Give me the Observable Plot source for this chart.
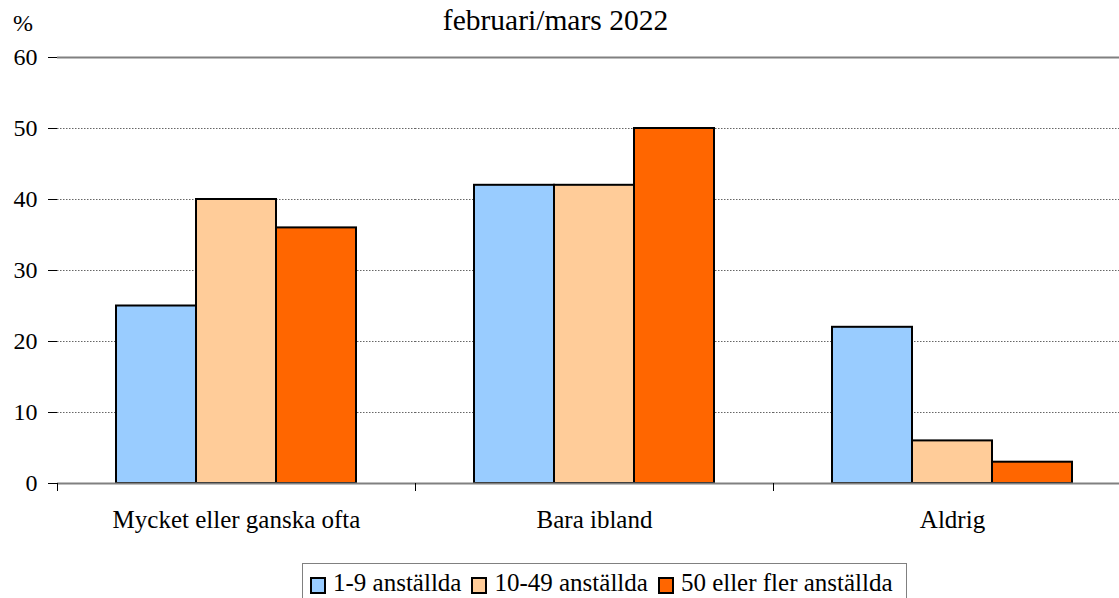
<!DOCTYPE html>
<html>
<head>
<meta charset="utf-8">
<script src="https://cdn.jsdelivr.net/npm/d3@7"></script>
<script src="https://cdn.jsdelivr.net/npm/@observablehq/plot@0.6"></script>
<style>
  html, body { margin: 0; padding: 0; background: #fff; }
  body { width: 1119px; height: 598px; overflow: hidden; font-family: "Liberation Serif", "Times New Roman", serif; color: #000; }
  #wrap { position: relative; width: 1119px; height: 598px; overflow: hidden; }
  #title { position: absolute; top: 3px; left: 0; width: 1111px; text-align: center; font-size: 29.5px; line-height: 34px; white-space: nowrap; }
  #unit { position: absolute; top: 9px; left: 13px; font-size: 24px; line-height: 28px; }
  #chart { position: absolute; top: 0; left: 0; width: 1135px; }
  #chart svg { max-width: none !important; }
  #chart svg, #chart svg text { font-family: "Liberation Serif", "Times New Roman", serif !important; }
  #legend { position: absolute; left: 302px; top: 563px; width: 605px; height: 42px; border: 1px solid #808080; box-sizing: border-box; font-family: "Liberation Serif", serif; font-size: 25px; line-height: 30px; white-space: nowrap; padding: 4px 0 0 7px; }
  .item { display: inline-block; margin-right: 10px; }
  .sw { display: inline-block; width: 16px; height: 17px; border: 2px solid #000; box-sizing: border-box; margin-right: 7px; vertical-align: -3px; }
</style>
</head>
<body>
<div id="wrap">
  <div id="unit">%</div>
  <div id="title">februari/mars 2022</div>
  <div id="chart"></div>
  <div id="legend"></div>
</div>
<script>
const categories = ["Mycket eller ganska ofta", "Bara ibland", "Aldrig"];
const series = ["1-9 anställda", "10-49 anställda", "50 eller fler anställda"];
const values1to9 = [25, 42, 22];
const values10to49 = [40, 42, 6];
const values50plus = [36, 50, 3];
const colors = ["#99CCFF", "#FFCC99", "#FF6600"];
const yTicks = [0, 10, 20, 30, 40, 50, 60];

const seriesValues = [values1to9, values10to49, values50plus];
const data = [];
categories.forEach((c, ci) => {
  series.forEach((s, si) => data.push({cat: c, series: s, value: seriesValues[si][ci]}));
});

const W = 1135, H = 560, mL = 57, mR = 4;
const halfBand = (W - mL - mR) / categories.length / 2;
const serif = "Liberation Serif, Times New Roman, serif";

const chart = Plot.plot({
  width: W,
  height: H,
  marginTop: 57,
  marginBottom: 77,
  marginLeft: mL,
  marginRight: mR,
  style: {fontFamily: serif, fontSize: "24px", color: "#000", background: "transparent", overflow: "visible", maxWidth: "none"},
  fx: {domain: categories, padding: 0, axis: null},
  x: {domain: series, paddingInner: 0, paddingOuter: 0.7375, axis: null},
  y: {domain: [0, 60], axis: null},
  color: {domain: series, range: colors},
  marks: [
    Plot.ruleY(yTicks.filter(d => d > 0 && d < 60), {stroke: "#000", strokeOpacity: 0.6, strokeDasharray: "1.5,1.5", strokeWidth: 1}),
    Plot.ruleY([60], {stroke: "#808080", strokeWidth: 2}),
    Plot.barY(data, {fx: "cat", x: "series", y: "value", fill: "series", stroke: "#000", strokeWidth: 2, inset: 0}),
    Plot.ruleY([0], {stroke: "#808080", strokeWidth: 2}),
    Plot.axisY({ticks: yTicks, tickSize: 9, tickPadding: 11, line: true, stroke: "#000", fontSize: 24, fontFamily: serif, label: null, tickFormat: d => d}),
    Plot.axisFx({anchor: "bottom", tickSize: 8, tickFormat: () => "", dx: -halfBand, stroke: "#000", label: null}),
    Plot.axisFx({anchor: "bottom", tickSize: 0, tickPadding: 27, fontSize: 25, fontFamily: serif, label: null})
  ]
});
document.getElementById("chart").appendChild(chart);

const legend = document.getElementById("legend");
series.forEach((s, i) => {
  const item = document.createElement("span");
  item.className = "item";
  const sw = document.createElement("span");
  sw.className = "sw";
  sw.style.background = colors[i];
  item.appendChild(sw);
  item.appendChild(document.createTextNode(s));
  legend.appendChild(item);
});
</script>
</body>
</html>
